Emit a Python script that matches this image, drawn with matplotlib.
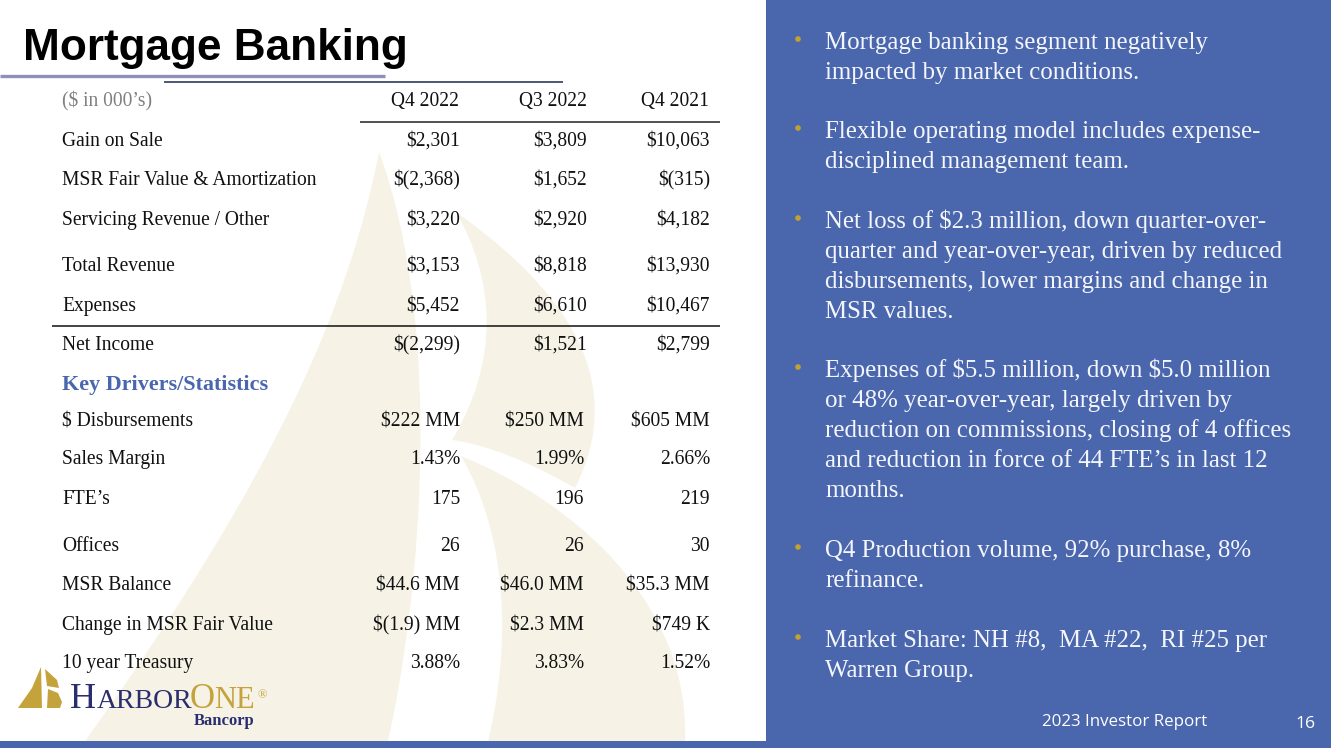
import matplotlib
matplotlib.use("Agg")
import matplotlib.pyplot as plt
from matplotlib.patches import PathPatch, Polygon, Rectangle, Circle
from matplotlib.path import Path

SERIF = "Liberation Serif"
BLUE = "#4A66AD"
CREAM = "#F6F3E6"
GOLD = "#C4A23C"
NAVY = "#2B2D6E"

# -------- Table data --------
headers = ["Q4 2022", "Q3 2022", "Q4 2021"]

row_labels = ["Gain on Sale", "MSR Fair Value & Amortization", "Servicing Revenue / Other",
              "Total Revenue", "Expenses", "Net Income"]
q4_2022 = ["$2,301", "$(2,368)", "$3,220", "$3,153", "$5,452", "$(2,299)"]
q3_2022 = ["$3,809", "$1,652", "$2,920", "$8,818", "$6,610", "$1,521"]
q4_2021 = ["$10,063", "$(315)", "$4,182", "$13,930", "$10,467", "$2,799"]

driver_labels = ["$ Disbursements", "Sales Margin", "FTE\u2019s", "Offices", "MSR Balance",
                 "Change in MSR Fair Value", "10 year Treasury"]
drivers_q4_2022 = ["$222 MM", "1.43%", "175", "26", "$44.6 MM", "$(1.9) MM", "3.88%"]
drivers_q3_2022 = ["$250 MM", "1.99%", "196", "26", "$46.0 MM", "$2.3 MM", "3.83%"]
drivers_q4_2021 = ["$605 MM", "2.66%", "219", "30", "$35.3 MM", "$749 K", "1.52%"]

bullets = [
    ["Mortgage banking segment negatively", "impacted by market conditions."],
    ["Flexible operating model includes expense-", "disciplined management team."],
    ["Net loss of $2.3 million, down quarter-over-", "quarter and year-over-year, driven by reduced",
     "disbursements, lower margins and change in", "MSR values."],
    ["Expenses of $5.5 million, down $5.0 million", "or 48% year-over-year, largely driven by",
     "reduction on commissions, closing of 4 offices", "and reduction in force of 44 FTE\u2019s in last 12",
     "months."],
    ["Q4 Production volume, 92% purchase, 8%", "refinance."],
    ["Market Share: NH #8,  MA #22,  RI #25 per", "Warren Group."],
]

# -------- Layout (pixels of the slide) --------
row_y = [146, 185, 225, 271, 311, 350]
driver_y = [426, 464, 504, 551, 590, 630, 668]
bullet_y = [[49, 79], [138, 168], [228, 258, 288, 318], [377, 407, 437, 467, 497], [557, 587], [647, 677]]

fig = plt.figure(figsize=(13.31, 7.48), dpi=100)
ax = fig.add_axes([0, 0, 1, 1])
ax.set_xlim(0, 1331)
ax.set_ylim(748, 0)
ax.axis("off")


def curve(points, color, zorder=1):
    # closed shape from cubic bezier segments: start point, then 3 points per segment
    codes = [Path.MOVETO] + [Path.CURVE4] * (len(points) - 1) + [Path.CLOSEPOLY]
    path = Path(points + [points[0]], codes)
    ax.add_patch(PathPatch(path, facecolor=color, edgecolor="none", zorder=zorder))


# -------- Sail watermark --------
curve([(379, 152), (350, 300), (280, 470), (85, 741),
       (180, 741), (290, 741), (388, 741),
       (420, 600), (445, 330), (379, 152)], CREAM)
curve([(456, 212), (530, 265), (640, 360), (575, 488),
       (535, 465), (490, 445), (452, 440),
       (500, 360), (495, 280), (456, 212)], CREAM)
curve([(461, 456), (570, 500), (690, 600), (685, 741),
       (620, 741), (550, 741), (488, 741),
       (510, 650), (510, 540), (461, 456)], CREAM)

# -------- Panels --------
ax.add_patch(Rectangle((766, 0), 565, 748, facecolor=BLUE, edgecolor="none", zorder=2))
ax.add_patch(Rectangle((0, 741), 1331, 7, facecolor=BLUE, edgecolor="none", zorder=2))

# -------- Title and rules --------
ax.text(23, 60, "Mortgage Banking", family="Liberation Sans", weight="bold", fontsize=31.75,
        color="black", va="baseline", zorder=4)
ax.plot([0, 385], [76, 76], color="#8D90B8", lw=2.4, solid_capstyle="butt", zorder=3)
ax.plot([164, 563], [82, 82], color="#2F3A5C", lw=1.2, solid_capstyle="butt", zorder=3)
ax.plot([360, 720], [121.5, 121.5], color="#222222", lw=1.1, solid_capstyle="butt", zorder=3)
ax.plot([52, 720], [325.5, 325.5], color="#111111", lw=1.1, solid_capstyle="butt", zorder=3)


def cell(x, y, s, ha="right", color="#111111", **kw):
    ax.text(x, y, s, family=SERIF, fontsize=kw.pop("fontsize", 14.05), color=color, ha=ha,
            va="baseline", zorder=4, parse_math=False, **kw)


# -------- Table --------
cell(62, 106, "($ in 000\u2019s)", ha="left", color="#808080")
for x, h in zip([459, 587, 709], headers):
    cell(x, 106, h)

for i, y in enumerate(row_y):
    cell(62, y, row_labels[i], ha="left")
    cell(460, y, q4_2022[i])
    cell(587, y, q3_2022[i])
    cell(710, y, q4_2021[i])

cell(62, 390, "Key Drivers/Statistics", ha="left", color=BLUE, weight="bold", fontsize=15.9)

for i, y in enumerate(driver_y):
    cell(62, y, driver_labels[i], ha="left")
    cell(460, y, drivers_q4_2022[i])
    cell(584, y, drivers_q3_2022[i])
    cell(710, y, drivers_q4_2021[i])

# -------- Logo --------
ax.add_patch(Polygon([(41, 667), (42, 708), (18, 708), (32, 688)], facecolor=GOLD, edgecolor="none", zorder=3))
ax.add_patch(Polygon([(45, 669), (57, 680), (59, 688), (47, 686)], facecolor=GOLD, edgecolor="none", zorder=3))
ax.add_patch(Polygon([(48, 689), (58, 693), (62, 702), (60, 708), (47, 708)], facecolor=GOLD, edgecolor="none", zorder=3))

for x, s, size, col in [(70, "H", 26, NAVY), (97, "ARBOR", 20, NAVY),
                        (190, "O", 25, GOLD), (214, "NE", 22, GOLD), (257, "\u00ae", 9, GOLD)]:
    ax.text(x, 708 if s != "\u00ae" else 698, s, family=SERIF, fontsize=size, color=col, va="baseline", zorder=4)
ax.text(194, 725, "Bancorp", family=SERIF, weight="bold", fontsize=12, color=NAVY, va="baseline", zorder=4)

# -------- Bullets --------
for lines, ys in zip(bullets, bullet_y):
    ax.add_patch(Circle((798, ys[0] - 10), 2.8, facecolor="#C2A22E", edgecolor="none", zorder=3))
    for s, y in zip(lines, ys):
        ax.text(825, y, s, family=SERIF, fontsize=17.95, color="#F4F6FB", va="baseline", zorder=4,
                parse_math=False)

# -------- Footer --------
ax.text(1042, 726, "2023 Investor Report", family="Open Sans", fontsize=12.2, color="white", va="baseline", zorder=4)
ax.text(1295, 728, "16", family="Open Sans", fontsize=12.6, color="white", va="baseline", zorder=4)

fig.savefig("out.png", dpi=100)
